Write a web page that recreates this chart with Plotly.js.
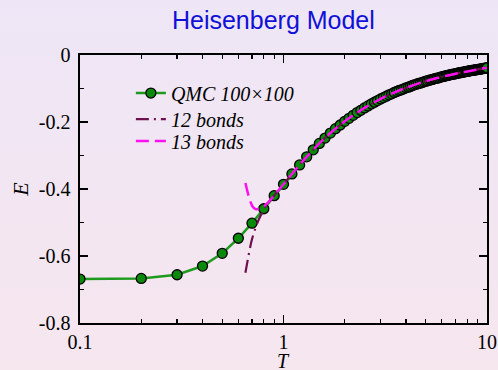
<!DOCTYPE html>
<html>
<head>
<meta charset="utf-8">
<script src="https://cdn.plot.ly/plotly-3.0.1.min.js"></script>
<style>
  html, body { margin:0; padding:0; width:498px; height:370px; overflow:hidden;
    background: linear-gradient(to bottom, #EEE6F6 0%, #F2E6F2 50%, #F6E6EE 100%); }
  #chart { width:498px; height:370px; }
</style>
</head>
<body>
<div id="chart"></div>
<script>
// QMC 100x100 data
const qmcT = [0.1,0.2,0.3,0.4,0.5,0.6,0.7,0.8,0.9,
  1.0,1.1,1.2,1.3,1.4,1.5,1.6,1.7,1.8,1.9,2.0,2.1,2.2,2.3,2.4,2.5,2.6,2.7,2.8,2.9,
  3.0,3.1,3.2,3.3,3.4,3.5,3.6,3.7,3.8,3.9,
  4.0,4.1,4.2,4.3,4.4,4.5,4.6,4.7,4.8,4.9,
  5.0,5.1,5.2,5.3,5.4,5.5,5.6,5.7,5.8,5.9,
  6.0,6.1,6.2,6.3,6.4,6.5,6.6,6.7,6.8,6.9,
  7.0,7.1,7.2,7.3,7.4,7.5,7.6,7.7,7.8,7.9,
  8.0,8.1,8.2,8.3,8.4,8.5,8.6,8.7,8.8,8.9,
  9.0,9.1,9.2,9.3,9.4,9.5,9.6,9.7,9.8,9.9,10.0];
const qmcE = [-0.669,-0.667,-0.656,-0.630,-0.592,-0.547,-0.502,-0.459,-0.420,
  -0.386,-0.355,-0.328,-0.304,-0.283,-0.264,-0.248,-0.233,-0.220,-0.209,-0.198,-0.189,-0.180,-0.172,-0.165,-0.158,-0.152,-0.146,-0.141,-0.136,
  -0.131,-0.127,-0.123,-0.119,-0.116,-0.112,-0.109,-0.106,-0.104,-0.101,
  -0.098,-0.096,-0.094,-0.091,-0.089,-0.087,-0.085,-0.084,-0.082,-0.080,
  -0.078,-0.077,-0.075,-0.074,-0.073,-0.071,-0.070,-0.069,-0.068,-0.066,
  -0.065,-0.064,-0.063,-0.062,-0.061,-0.060,-0.059,-0.058,-0.057,-0.057,
  -0.056,-0.055,-0.054,-0.053,-0.053,-0.052,-0.051,-0.051,-0.050,-0.049,
  -0.049,-0.048,-0.047,-0.047,-0.046,-0.046,-0.045,-0.045,-0.044,-0.044,
  -0.043,-0.043,-0.042,-0.042,-0.041,-0.041,-0.040,-0.040,-0.039,-0.039,-0.038];

// 12 bonds series expansion
const b12T = [0.65,0.68,0.70,0.73,0.76,0.80,0.85,0.9,1.0,1.1,1.2,1.3,1.5,1.7,2.0,2.3,2.6,3.0,3.5,4.0,5.0,6.0,7.0,8.0,9.0,10.0];
const b12E = [-0.650,-0.585,-0.550,-0.515,-0.488,-0.462,-0.437,-0.419,-0.386,-0.355,-0.328,-0.304,-0.264,-0.233,-0.198,-0.172,-0.152,-0.131,-0.112,-0.098,-0.078,-0.065,-0.056,-0.049,-0.043,-0.038];

// 13 bonds series expansion
const b13T = [0.65,0.67,0.69,0.71,0.73,0.75,0.77,0.80,0.85,0.9,1.0,1.1,1.2,1.3,1.5,1.7,2.0,2.3,2.6,3.0,3.5,4.0,5.0,6.0,7.0,8.0,9.0,10.0];
const b13E = [-0.382,-0.415,-0.440,-0.455,-0.460,-0.460,-0.458,-0.452,-0.437,-0.419,-0.386,-0.355,-0.328,-0.304,-0.264,-0.233,-0.198,-0.172,-0.152,-0.131,-0.112,-0.098,-0.078,-0.065,-0.056,-0.049,-0.043,-0.038];

const xTickVals = [0.1, 1, 10];
const xTickText = ['0.1', '1', '10'];
const yTickVals = [-0.8, -0.6, -0.4, -0.2, 0];
const yTickText = ['-0.8', '-0.6', '-0.4', '-0.2', '0'];

const serif = '"Liberation Serif", "Times New Roman", serif';

const traces = [
  { x: qmcT, y: qmcE, name: 'QMC 100×100', mode: 'lines+markers', type: 'scatter', legend: 'legend',
    line: { color: '#1E9A1E', width: 2.5 },
    marker: { color: '#0A8A0A', size: 10, line: { color: '#000000', width: 1.3 } } },
  { x: b12T, y: b12E, name: '12 bonds', mode: 'lines', type: 'scatter', legend: 'legend2',
    line: { color: '#6E1050', width: 2.2, dash: '13px,5px,2px,5px', shape: 'spline' } },
  { x: b13T, y: b13E, name: '13 bonds', mode: 'lines', type: 'scatter', legend: 'legend3',
    line: { color: '#FF10F0', width: 2.5, dash: '13px,6px', shape: 'spline' } }
];

const legendBase = (yPix) => ({
  x: 0.125, xanchor: 'left', y: 1 - (yPix - 55) / 267.7, yanchor: 'middle',
  bgcolor: 'rgba(0,0,0,0)', borderwidth: 0,
  font: { family: serif, size: 20, color: '#000', style: 'italic' }
});

const layout = {
  width: 498, height: 370,
  margin: { l: 80, r: 11, t: 55, b: 47, pad: 0 },
  paper_bgcolor: 'rgba(0,0,0,0)',
  plot_bgcolor: 'rgba(0,0,0,0)',
  showlegend: true,
  title: { text: 'Heisenberg Model', font: { family: '"Liberation Sans", Arial, sans-serif', size: 25, color: '#1010D8' },
    x: 0.549, xanchor: 'center', xref: 'container', y: 0.944, yanchor: 'middle' },
  xaxis: {
    type: 'log', range: [-1, 1],
    tickmode: 'array', tickvals: xTickVals, ticktext: xTickText,
    ticks: 'inside', ticklen: 8, tickwidth: 1.2, tickcolor: '#000',
    minor: { tickmode: 'array', tickvals: [0.2,0.3,0.4,0.5,0.6,0.7,0.8,0.9,2,3,4,5,6,7,8,9], ticks: 'inside', ticklen: 4, tickwidth: 1.2, tickcolor: '#000', showgrid: false },
    showline: true, linecolor: '#000', linewidth: 1.6, mirror: 'ticks',
    showgrid: false, zeroline: false,
    tickfont: { family: serif, size: 20, color: '#000' },
    ticklabelstandoff: 0
  },
  yaxis: {
    range: [-0.8, 0],
    tickmode: 'array', tickvals: yTickVals, ticktext: yTickText,
    ticks: 'inside', ticklen: 8, tickwidth: 1.2, tickcolor: '#000',
    minor: { tickmode: 'array', tickvals: [-0.7,-0.5,-0.3,-0.1], ticks: 'inside', ticklen: 4, tickwidth: 1.2, tickcolor: '#000', showgrid: false },
    showline: true, linecolor: '#000', linewidth: 1.6, mirror: 'ticks',
    showgrid: false, zeroline: false,
    tickfont: { family: serif, size: 20, color: '#000' },
    ticklabelstandoff: 4,
    title: { text: '<i>E</i>', font: { family: serif, size: 22, color: '#000' }, standoff: 4 }
  },
  annotations: [
    { text: '<i>T</i>', xref: 'paper', yref: 'paper', x: 0.5, y: -0.143, xanchor: 'center', yanchor: 'middle',
      showarrow: false, font: { family: serif, size: 20, color: '#000' } }
  ],
  legend: legendBase(93),
  legend2: legendBase(119),
  legend3: legendBase(141)
};

Plotly.newPlot('chart', traces, layout, { displayModeBar: false, staticPlot: true });
</script>
</body>
</html>
